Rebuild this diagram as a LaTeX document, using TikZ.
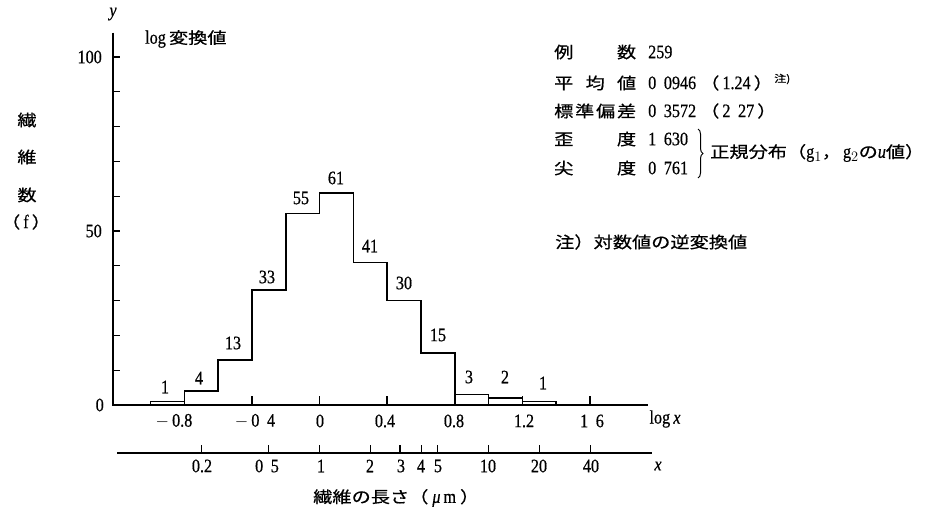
\documentclass[tikz,border=0pt]{standalone}
\usepackage{fontspec}
\setmainfont{Liberation Serif}[FakeStretch=0.85, FakeBold=0.6]
\newfontfamily\cjk{Noto Sans CJK JP}[FakeStretch=1.2, FakeBold=0.6]
\usetikzlibrary{decorations.pathreplacing}
\newcommand\gp{\kern0.4em}
\newcommand\mns{$-$\kern3pt}
\newcommand\jpar[1]{{\cjk\fontsize{16}{16}\selectfont #1}}
\begin{document}
\begin{tikzpicture}[x=1pt,y=-1pt,
  num/.style={font=\fontsize{19}{19}\selectfont, inner sep=0pt},
  jp/.style={font=\cjk\fontsize{16}{16}\selectfont, inner sep=0pt},
  ital/.style={font=\itshape\fontsize{19}{19}\selectfont, inner sep=0pt},
  axisline/.style={line width=1.5pt},
  histline/.style={line width=1.6pt, line join=miter},
  tickline/.style={line width=1.3pt}]
\useasboundingbox[fill=white] (0,0) rectangle (943,512);

% ---------- chart geometry in data units ----------
\begin{scope}[xshift=319.5pt, yshift=-405pt, x=169pt, y=3.48pt]
  \coordinate (O) at (-1.222,0);
  \coordinate (Ytop) at (-1.222,107);
  \coordinate (Xend) at (1.944,0);
  \draw[axisline] (Ytop) -- (O) -- (Xend);
  \foreach \n in {10,20,...,100} \draw[tickline] (-1.222,\n) -- ++(7pt,0);
  \foreach \l in {-0.8,-0.4,0,0.4,0.8,1.2,1.6} \draw[tickline] (\l,0) -- ++(0,9pt);
  % histogram
  \draw[histline] (-1,0) -- (-1,1) -- (-0.8,1) -- (-0.8,4) -- (-0.6,4) -- (-0.6,13)
     -- (-0.4,13) -- (-0.4,33) -- (-0.2,33) -- (-0.2,55) -- (0,55) -- (0,61)
     -- (0.2,61) -- (0.2,41) -- (0.4,41) -- (0.4,30) -- (0.6,30) -- (0.6,15)
     -- (0.8,15) -- (0.8,3) -- (1.0,3) -- (1.0,2) -- (1.2,2) -- (1.2,1)
     -- (1.4,1) -- (1.4,0);
  \draw[histline] (0.8,3) -- (0.8,0) (1.0,2) -- (1.0,0) (1.2,1) -- (1.2,0);
  % second (x) axis
  \coordinate (A2s) at (-1.198,-13.79);
  \coordinate (A2e) at (1.967,-13.79);
  \draw[axisline] (A2s) -- (A2e);
  \foreach \v in {0.2,0.5,1,2,3,4,5,10,20,40}
    \draw[tickline] ({log10(\v)},-13.79) -- ++(0,8pt);
\end{scope}

% ---------- y axis labels ----------
\node[ital] (ylab) at (113,14) {y};
\node[num, anchor=east] (y100) at (102,57) {100};
\node[num, anchor=east] (y50) at (102,231) {50};
\node[num, anchor=east] (y0) at (104,405) {0};
\node[jp] (f1) at (27,120) {繊};
\node[jp] (f2) at (27,157) {維};
\node[jp] (f3) at (27,195) {数};
\node[num] (f4) at (26,222) {\jpar{（}\kern3pt f\kern3pt\jpar{）}};
\node[num, anchor=west] (title) at (145,39) {log\,\jpar{変換値}};

% ---------- bar labels ----------
\node[num] (b1) at (165,387) {1};
\node[num] (b2) at (199,378) {4};
\node[num] (b3) at (233,343) {13};
\node[num] (b4) at (267,277) {33};
\node[num] (b5) at (301,198) {55};
\node[num] (b6) at (336,178) {61};
\node[num] (b7) at (370,246) {41};
\node[num] (b8) at (404,283) {30};
\node[num] (b9) at (438,335) {15};
\node[num] (b10) at (469,377) {3};
\node[num] (b11) at (505,377) {2};
\node[num] (b12) at (543,383) {1};

% ---------- log x axis labels ----------
\node[num] (lx1) at (174,421) {\mns 0.8};
\node[num] (lx2) at (255,421) {\mns 0\gp 4};
\node[num] (lx3) at (320,421) {0};
\node[num] (lx4) at (385,421) {0.4};
\node[num] (lx5) at (454,421) {0.8};
\node[num] (lx6) at (524,421) {1.2};
\node[num] (lx7) at (592,421) {1\gp 6};
\node[num] (lx8) at (665,419) {log\,\textit{x}};

% ---------- x axis labels ----------
\node[num] (x1) at (202,466) {0.2};
\node[num] (x2) at (267,466) {0\gp 5};
\node[num] (x3) at (321,466) {1};
\node[num] (x4) at (370,466) {2};
\node[num] (x5) at (401,466) {3};
\node[num] (x6) at (421,466) {4};
\node[num] (x7) at (438,466) {5};
\node[num] (x8) at (488,466) {10};
\node[num] (x9) at (539,466) {20};
\node[num] (x10) at (591,466) {40};
\node[ital] (x11) at (658,466) {x};
\node[jp, anchor=west] (xt) at (313,498) {繊維の長さ（\kern4pt{\rmfamily\fontsize{19}{19}\selectfont\itshape μ\kern3pt\upshape m}\kern4pt）};

% ---------- statistics ----------
\node[jp, anchor=west] (l1) at (554,52) {\makebox[82pt][s]{例\hfill 数}};
\node[jp, anchor=west] (l2) at (554,83) {\makebox[82pt][s]{平\hfill 均\hfill 値}};
\node[jp, anchor=west] (l3) at (554,111) {\makebox[82pt][s]{標\hfill 準\hfill 偏\hfill 差}};
\node[jp, anchor=west] (l4) at (554,139) {\makebox[82pt][s]{歪\hfill 度}};
\node[jp, anchor=west] (l5) at (554,168) {\makebox[82pt][s]{尖\hfill 度}};
\node[num, anchor=west] (v1) at (648,52) {259};
\node[num, anchor=west] (v2) at (648,83) {0\gp 0946\ \jpar{（}\kern3pt 1.24\kern3pt\jpar{）}};
\node[font=\cjk\fontsize{10}{10}\selectfont, inner sep=0pt, anchor=west] (v2n) at ([xshift=1pt,yshift=4pt]v2.east) {注)};
\node[num, anchor=west] (v3) at (648,111) {0\gp 3572\ \jpar{（}\kern3pt 2\gp 27\kern3pt\jpar{）}};
\node[num, anchor=west] (v4) at (648,139) {1\gp 630};
\node[num, anchor=west] (v5) at (648,168) {0\gp 761};
\draw[line width=1pt, decorate, decoration={brace, amplitude=5pt}] (698,129) -- (698,178);
\node[jp, anchor=west] (nd) at (710,153) {正規分布（{\rmfamily\fontsize{19}{19}\selectfont g$_1$}，\kern2pt{\rmfamily\fontsize{19}{19}\selectfont g$_2$}の{\rmfamily\fontsize{19}{19}\selectfont\itshape u}値）};
\node[jp, anchor=west] (note) at (555,242) {注）対数値の逆変換値};
\end{tikzpicture}
\end{document}
